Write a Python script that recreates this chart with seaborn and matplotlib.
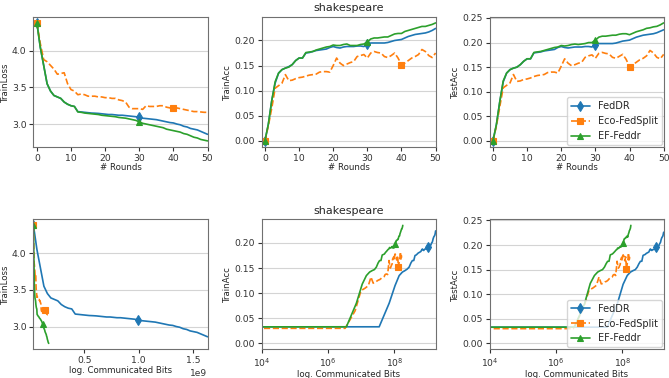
import numpy as np
import pandas as pd
import matplotlib
matplotlib.use("Agg")
import matplotlib.pyplot as plt
import matplotlib.ticker as mticker
import seaborn as sns

rounds = np.arange(51)
methods = ["FedDR", "Eco-FedSplit", "EF-Feddr"]

# communicated bits
loss_bits_start = 3.2e7
loss_bits_per_round = {"FedDR": 3.2e7, "Eco-FedSplit": 2.65e6, "EF-Feddr": 2.8e6}
acc_bits_per_round = {"FedDR": 3.5e7, "Eco-FedSplit": 3.3e6, "EF-Feddr": 3.6e6}
log_ticks = [1e4, 1e6, 1e8]

train_loss = {
    "FedDR": [4.38, 4.05, 3.8, 3.55, 3.45, 3.39, 3.37, 3.35, 3.30, 3.27, 3.25,
              3.24, 3.17, 3.165, 3.16, 3.155, 3.15, 3.148, 3.145, 3.14, 3.135,
              3.13, 3.13, 3.125, 3.12, 3.12, 3.115, 3.11, 3.105, 3.10, 3.09,
              3.08, 3.075, 3.07, 3.065, 3.06, 3.05, 3.04, 3.03, 3.02, 3.015,
              3.00, 2.99, 2.97, 2.96, 2.94, 2.93, 2.92, 2.90, 2.88, 2.86],
    "Eco-FedSplit": [4.38, 4.1, 3.88, 3.85, 3.80, 3.75, 3.68, 3.69, 3.70, 3.55,
                     3.47, 3.45, 3.40, 3.41, 3.40, 3.38, 3.38, 3.38, 3.37, 3.37,
                     3.36, 3.36, 3.35, 3.35, 3.33, 3.32, 3.30, 3.23, 3.21, 3.21,
                     3.21, 3.20, 3.25, 3.24, 3.24, 3.24, 3.25, 3.25, 3.23, 3.22,
                     3.22, 3.22, 3.21, 3.20, 3.19, 3.18, 3.17, 3.17, 3.165, 3.16,
                     3.16],
    "EF-Feddr": [4.38, 4.05, 3.8, 3.55, 3.45, 3.39, 3.37, 3.35, 3.30, 3.27, 3.25,
                 3.24, 3.165, 3.16, 3.15, 3.145, 3.14, 3.135, 3.13, 3.12, 3.115,
                 3.11, 3.105, 3.10, 3.09, 3.085, 3.08, 3.07, 3.06, 3.05, 3.03,
                 3.01, 3.00, 2.99, 2.98, 2.97, 2.96, 2.95, 2.93, 2.92, 2.91,
                 2.90, 2.89, 2.87, 2.86, 2.84, 2.82, 2.81, 2.79, 2.78, 2.77],
}

train_acc = {
    "FedDR": [0.0, 0.033, 0.08, 0.115, 0.135, 0.142, 0.145, 0.148, 0.152, 0.16,
              0.165, 0.165, 0.175, 0.176, 0.178, 0.18, 0.181, 0.182, 0.183, 0.186,
              0.188, 0.186, 0.185, 0.187, 0.188, 0.188, 0.188, 0.189, 0.189, 0.188,
              0.192, 0.195, 0.195, 0.195, 0.195, 0.195, 0.196, 0.198, 0.200, 0.201,
              0.202, 0.205, 0.208, 0.210, 0.212, 0.213, 0.214, 0.215, 0.217, 0.220,
              0.224],
    "Eco-FedSplit": [0.0, 0.030, 0.065, 0.105, 0.11, 0.115, 0.132, 0.12, 0.121,
                     0.124, 0.126, 0.127, 0.129, 0.131, 0.132, 0.133, 0.137, 0.138,
                     0.138, 0.137, 0.15, 0.165, 0.155, 0.15, 0.153, 0.156, 0.158,
                     0.168, 0.17, 0.172, 0.165, 0.175, 0.178, 0.176, 0.175, 0.168,
                     0.166, 0.17, 0.175, 0.165, 0.152, 0.155, 0.16, 0.165, 0.168,
                     0.172, 0.182, 0.178, 0.17, 0.166, 0.175],
    "EF-Feddr": [0.0, 0.033, 0.08, 0.118, 0.135, 0.142, 0.145, 0.147, 0.152, 0.16,
                 0.165, 0.165, 0.176, 0.177, 0.178, 0.181, 0.183, 0.185, 0.187,
                 0.188, 0.191, 0.19, 0.19, 0.192, 0.193, 0.19, 0.19, 0.19, 0.192,
                 0.193, 0.197, 0.203, 0.205, 0.205, 0.206, 0.207, 0.207, 0.21,
                 0.213, 0.214, 0.214, 0.218, 0.22, 0.222, 0.224, 0.226, 0.228,
                 0.228, 0.230, 0.232, 0.235],
}

test_acc = {
    "FedDR": [0.0, 0.033, 0.08, 0.12, 0.138, 0.145, 0.148, 0.15, 0.155, 0.162,
              0.167, 0.167, 0.179, 0.18, 0.181, 0.183, 0.184, 0.185, 0.186, 0.19,
              0.192, 0.19, 0.189, 0.19, 0.191, 0.191, 0.191, 0.192, 0.192, 0.191,
              0.196, 0.198, 0.198, 0.198, 0.198, 0.198, 0.199, 0.201, 0.203, 0.204,
              0.205, 0.208, 0.211, 0.213, 0.215, 0.216, 0.217, 0.218, 0.22, 0.223,
              0.226],
    "Eco-FedSplit": [0.0, 0.030, 0.07, 0.108, 0.113, 0.118, 0.135, 0.121, 0.122,
                     0.125, 0.126, 0.128, 0.131, 0.133, 0.134, 0.135, 0.139, 0.14,
                     0.14, 0.138, 0.152, 0.167, 0.158, 0.153, 0.155, 0.158, 0.16,
                     0.17, 0.173, 0.175, 0.168, 0.178, 0.18, 0.178, 0.177, 0.17,
                     0.168, 0.172, 0.176, 0.166, 0.151, 0.155, 0.16, 0.165, 0.168,
                     0.173, 0.184, 0.179, 0.17, 0.167, 0.176],
    "EF-Feddr": [0.0, 0.033, 0.08, 0.122, 0.138, 0.145, 0.148, 0.15, 0.155, 0.162,
                 0.167, 0.167, 0.18, 0.181, 0.182, 0.184, 0.186, 0.188, 0.19, 0.191,
                 0.194, 0.193, 0.194, 0.196, 0.197, 0.196, 0.197, 0.198, 0.2, 0.2,
                 0.205, 0.211, 0.213, 0.213, 0.214, 0.215, 0.215, 0.217, 0.218,
                 0.218, 0.216, 0.219, 0.222, 0.224, 0.226, 0.229, 0.23, 0.232,
                 0.233, 0.236, 0.24],
}

colors = dict(zip(methods, sns.color_palette("tab10", 3)))
styles = {
    "FedDR": dict(linestyle="-", marker="d", markevery=[0, 30]),
    "Eco-FedSplit": dict(linestyle="--", marker="s", markevery=[0, 40]),
    "EF-Feddr": dict(linestyle="-", marker="^", markevery=[0, 30]),
}

sns.set_style("ticks")
plt.rcParams.update({
    "axes.edgecolor": "#707070",
    "axes.linewidth": 0.8,
    "xtick.color": "#333333",
    "ytick.color": "#333333",
    "xtick.labelsize": 6.7,
    "ytick.labelsize": 6.7,
    "axes.labelsize": 6.2,
    "xtick.major.size": 3,
    "ytick.major.size": 3,
    "xtick.major.pad": 2,
    "ytick.major.pad": 2,
})
plt.rcParams["font.family"] = ["DejaVu Sans"]

fig, axes = plt.subplots(2, 3, figsize=(6.69, 3.78), dpi=100)
fig.subplots_adjust(left=0.05, right=0.992, top=0.955, bottom=0.076,
                    wspace=0.31, hspace=0.56)

panels = [("TrainLoss", train_loss), ("TrainAcc", train_acc), ("TestAcc", test_acc)]


def draw(ax, xs, ys, m):
    sns.lineplot(x=xs, y=ys, ax=ax, color=colors[m], label=m, errorbar=None,
                 linewidth=1.2, markersize=5, mec=colors[m], mew=0.8,
                 legend=False, **styles[m])


for col, (name, data) in enumerate(panels):
    # top row: against rounds
    ax = axes[0, col]
    for m in methods:
        draw(ax, rounds, data[m], m)
    ax.set_xlim(-1, 50)
    ax.set_xlabel("# Rounds")
    ax.set_ylabel(name)

    # bottom row: against communicated bits
    ax = axes[1, col]
    for m in methods:
        if col == 0:
            xs = loss_bits_start + rounds * loss_bits_per_round[m]
        else:
            xs = rounds * acc_bits_per_round[m]
        draw(ax, xs, data[m], m)
    if col == 0:
        ax.set_xlim(loss_bits_start, loss_bits_start + 50 * loss_bits_per_round["FedDR"])
    else:
        ax.set_xscale("log")
        ax.set_xlim(1e4, 50 * acc_bits_per_round["FedDR"])
        ax.set_xticks(log_ticks)
        ax.xaxis.set_minor_locator(mticker.NullLocator())
    ax.set_xlabel("log. Communicated Bits")
    ax.set_ylabel(name)

for ax in axes.flat:
    ax.grid(axis="y", color="#d4d4d4", linewidth=0.8)
    ax.set_axisbelow(True)
    ax.yaxis.labelpad = 1.5
    ax.xaxis.labelpad = 0.5

axes[1, 0].xaxis.get_offset_text().set_fontsize(6.5)

axes[0, 1].set_title("shakespeare", fontsize=8, pad=4)
axes[1, 1].set_title("shakespeare", fontsize=8, pad=4)

for ax in (axes[0, 2], axes[1, 2]):
    ax.legend(loc="lower right", fontsize=7, borderaxespad=0.2,
              handlelength=2.0, framealpha=0.8)

fig.savefig("out.png", dpi=100)
